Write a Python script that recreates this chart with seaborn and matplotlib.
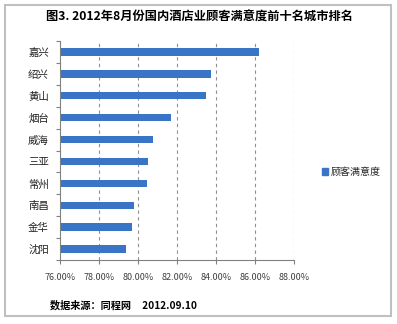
import matplotlib
matplotlib.use("Agg")
import matplotlib.pyplot as plt
import seaborn as sns
import pandas as pd
import numpy as np
from matplotlib.patches import Rectangle, Patch
from matplotlib.ticker import FixedLocator

cities = ["嘉兴", "绍兴", "黄山", "烟台", "威海", "三亚", "常州", "南昌", "金华", "沈阳"]
satisfaction = [86.2, 83.75, 83.5, 81.7, 80.75, 80.5, 80.45, 79.8, 79.7, 79.4]
xticks = [76, 78, 80, 82, 84, 86, 88]
xtick_labels = ["76.00%", "78.00%", "80.00%", "82.00%", "84.00%", "86.00%", "88.00%"]
title = "图3. 2012年8月份国内酒店业顾客满意度前十名城市排名"
series_name = "顾客满意度"
source = "数据来源：同程网     2012.09.10"

sns.set_theme(style="white")
plt.rcParams['font.family'] = ['Noto Sans CJK SC', 'DejaVu Sans']

df = pd.DataFrame({"city": cities, "value": satisfaction})

W, H = 397, 324
fig = plt.figure(figsize=(W / 100, H / 100), dpi=100)
fig.patch.set_facecolor("white")

# outer frame
fig.add_artist(Rectangle((5 / W, 1 - 316 / H), 386 / W, 311 / H, transform=fig.transFigure,
                         fill=False, edgecolor="#c0c0c0", linewidth=1.5))

ax = fig.add_axes([60 / W, 1 - 260 / H, 234 / W, 219 / H])
bar_color = "#3a74c6"
sns.barplot(data=df, y="city", x="value", orient="h", color=bar_color, width=0.34,
            ax=ax, saturation=1, edgecolor=bar_color, linewidth=0)

ax.set_xlim(76, 88)
ax.set_ylim(len(cities) - 0.5, -0.5)
ax.set_xticks(xticks)
ax.set_xticklabels(xtick_labels, fontsize=6.5, color="#404040")
ax.set_xlabel("")
ax.set_ylabel("")
ax.tick_params(axis="y", length=0, labelsize=7.5, labelcolor="#202020", pad=8)
ax.yaxis.set_minor_locator(FixedLocator(np.arange(-0.5, len(cities), 1.0)))
ax.tick_params(axis="y", which="minor", length=3, color="#808080", width=0.8, direction="out", left=True)
ax.tick_params(axis="x", length=3, color="#808080", width=0.8, direction="out", bottom=True, pad=6)
for x in xticks[1:]:
    ax.axvline(x, color="#909090", linestyle=(0, (3, 3)), linewidth=0.8, zorder=0)
for side in ["top", "right"]:
    ax.spines[side].set_visible(False)
for side in ["left", "bottom"]:
    ax.spines[side].set_color("#808080")
    ax.spines[side].set_linewidth(0.8)

fig.text(199 / W, 1 - 17 / H, title, ha="center", va="center", fontsize=8.8, fontweight="bold",
         color="#000000")

handles = [Patch(facecolor=bar_color, edgecolor=bar_color, label=series_name)]
fig.legend(handles=handles, loc="center left", bbox_to_anchor=(322 / W, 1 - 172 / H),
           frameon=False, fontsize=7.2, handlelength=0.6, handleheight=0.6, handletextpad=0.3,
           borderpad=0, borderaxespad=0)

fig.text(50 / W, 1 - 305 / H, source, ha="left", va="center", fontsize=7.3, fontweight="bold",
         color="#000000")

fig.savefig("out.png", dpi=100, facecolor="white")
